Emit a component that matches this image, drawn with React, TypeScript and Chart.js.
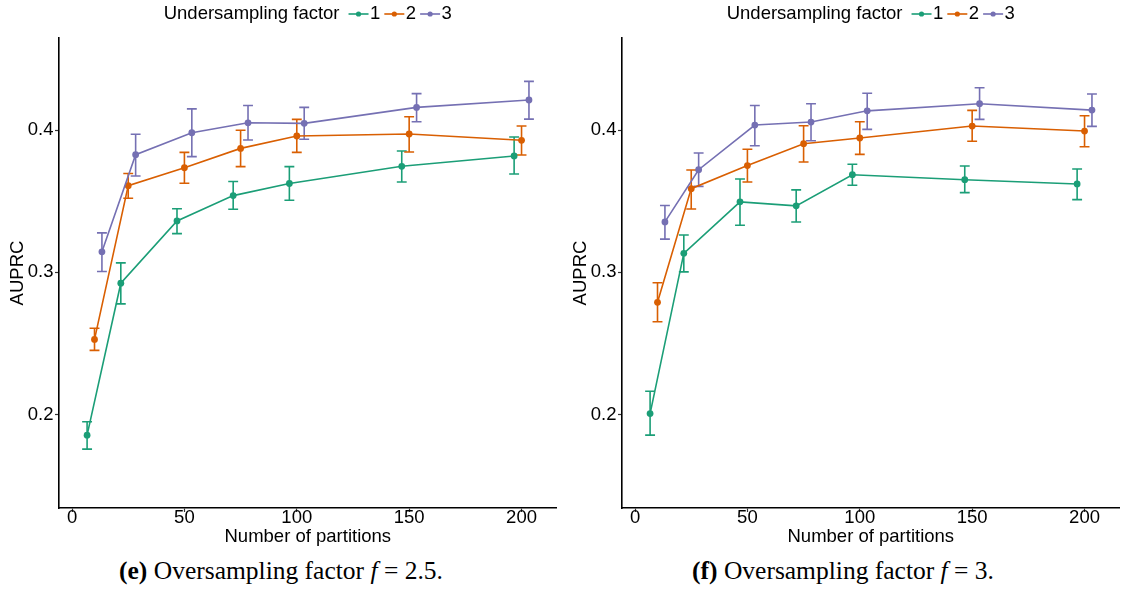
import React, { useEffect, useRef } from "react";
import { Chart, registerables } from "chart.js";

Chart.register(...registerables);

// Shared layout of both panels
const partitions = [10, 25, 50, 75, 100, 150, 200];
const factorLabels = ["1", "2", "3"];
const factorColors = ["#1B9E77", "#D95F02", "#7570B3"];
const dodgeOffsets = [-3.3, 0, 3.3];
const capHalfWidth = 2.2;
const xTicks = [0, 50, 100, 150, 200];
const yTicks = [0.2, 0.3, 0.4];
const xLimits = [-5.8, 215.6];
const yLimits = [0.1343, 0.4647];

// Oversampling factor f = 2.5
const meanE1 = [0.1855, 0.2923, 0.3361, 0.3539, 0.3624, 0.3745, 0.3818];
const lowE1 = [0.1757, 0.2778, 0.3272, 0.3443, 0.3506, 0.3635, 0.3691];
const highE1 = [0.1949, 0.3066, 0.3447, 0.3638, 0.3743, 0.3853, 0.3951];
const meanE2 = [0.2528, 0.3609, 0.3735, 0.3871, 0.3958, 0.3972, 0.3928];
const lowE2 = [0.2451, 0.3521, 0.3626, 0.3743, 0.3843, 0.3846, 0.3825];
const highE2 = [0.2607, 0.3694, 0.3843, 0.3998, 0.4075, 0.4093, 0.4028];
const meanE3 = [0.3144, 0.3827, 0.3981, 0.4051, 0.4047, 0.4159, 0.4211];
const lowE3 = [0.3006, 0.3677, 0.3813, 0.393, 0.3935, 0.4058, 0.4077];
const highE3 = [0.3277, 0.397, 0.4149, 0.4173, 0.4159, 0.4256, 0.4342];

// Oversampling factor f = 3
const meanF1 = [0.2007, 0.3133, 0.3495, 0.3467, 0.3686, 0.3651, 0.3621];
const lowF1 = [0.1855, 0.3003, 0.3331, 0.3354, 0.3612, 0.356, 0.3511];
const highF1 = [0.2164, 0.3262, 0.3656, 0.3579, 0.3759, 0.3747, 0.3726];
const meanF2 = [0.2789, 0.3588, 0.375, 0.3904, 0.3944, 0.4028, 0.3993];
const lowF2 = [0.2652, 0.3445, 0.3635, 0.3775, 0.3829, 0.3921, 0.3883];
const highF2 = [0.2926, 0.3719, 0.3865, 0.403, 0.4058, 0.4138, 0.41];
const meanF3 = [0.3354, 0.3721, 0.4035, 0.4056, 0.4135, 0.4185, 0.414];
const lowF3 = [0.3233, 0.3604, 0.389, 0.3925, 0.4005, 0.4075, 0.4026];
const highF3 = [0.347, 0.3839, 0.4173, 0.4185, 0.4259, 0.4297, 0.4253];

const SANS = "'Liberation Sans', Arial, sans-serif";
const FONT_SIZE = 18.5;
const CANVAS_W = 560;
const CANVAS_H = 550;
const PLOT_LEFT = 59;
const PLOT_TOP = 38;
const PLOT_BOTTOM = 508;

// Vertical error bars with caps, drawn under the lines and points
const errorBarPlugin = {
  id: "errorBars",
  beforeDatasetsDraw(chart: any) {
    const { ctx, scales } = chart;
    const xs = scales.x;
    const ys = scales.y;
    ctx.save();
    ctx.lineWidth = 1.6;
    ctx.lineCap = "butt";
    chart.data.datasets.forEach((ds: any) => {
      ctx.strokeStyle = ds.borderColor;
      ds.data.forEach((pt: any, i: number) => {
        const xc = xs.getPixelForValue(pt.x);
        const x0 = xs.getPixelForValue(pt.x - capHalfWidth);
        const x1 = xs.getPixelForValue(pt.x + capHalfWidth);
        const yLo = ys.getPixelForValue(ds.errLow[i]);
        const yHi = ys.getPixelForValue(ds.errHigh[i]);
        ctx.beginPath();
        ctx.moveTo(xc, yHi);
        ctx.lineTo(xc, yLo);
        ctx.moveTo(x0, yHi);
        ctx.lineTo(x1, yHi);
        ctx.moveTo(x0, yLo);
        ctx.lineTo(x1, yLo);
        ctx.stroke();
      });
    });
    ctx.restore();
  },
};

// Single-row legend with a title, centred over the plotting area
const inlineLegendPlugin = {
  id: "inlineLegend",
  afterDraw(chart: any) {
    const { ctx, chartArea } = chart;
    const title = "Undersampling factor";
    const glyphW = 20;
    const gapTitle = 9;
    const gapGlyph = 1.5;
    const gapItem = 4;
    ctx.save();
    ctx.font = `${FONT_SIZE}px ${SANS}`;
    ctx.textBaseline = "middle";
    ctx.textAlign = "left";
    const titleW = ctx.measureText(title).width;
    const labelWs = factorLabels.map((l) => ctx.measureText(l).width);
    let total = titleW + gapTitle;
    labelWs.forEach((w, i) => {
      total += glyphW + gapGlyph + w + (i < labelWs.length - 1 ? gapItem : 0);
    });
    let x = (chartArea.left + chartArea.right) / 2 - total / 2;
    const y = 14;
    ctx.fillStyle = "#000";
    ctx.fillText(title, x, y);
    x += titleW + gapTitle;
    factorLabels.forEach((l, i) => {
      const c = factorColors[i];
      ctx.strokeStyle = c;
      ctx.lineWidth = 1.6;
      ctx.beginPath();
      ctx.moveTo(x, y);
      ctx.lineTo(x + glyphW, y);
      ctx.stroke();
      ctx.fillStyle = c;
      ctx.beginPath();
      ctx.arc(x + glyphW / 2, y, 2.6, 0, Math.PI * 2);
      ctx.fill();
      x += glyphW + gapGlyph;
      ctx.fillStyle = "#000";
      ctx.fillText(l, x, y);
      x += labelWs[i] + gapItem;
    });
    ctx.restore();
  },
};

type PanelProps = {
  means: number[][];
  lows: number[][];
  highs: number[][];
};

function Panel({ means, lows, highs }: PanelProps) {
  const ref = useRef<HTMLCanvasElement | null>(null);

  useEffect(() => {
    if (!ref.current) return;
    const datasets = factorLabels.map((label, k) => ({
      label,
      data: partitions.map((p, i) => ({ x: p + dodgeOffsets[k], y: means[k][i] })),
      errLow: lows[k],
      errHigh: highs[k],
      borderColor: factorColors[k],
      backgroundColor: factorColors[k],
      borderWidth: 1.6,
      pointRadius: 3.4,
      pointBorderWidth: 0,
      pointHoverRadius: 3.4,
      tension: 0,
      order: 3 - k,
    }));

    const tickFont = { family: SANS, size: FONT_SIZE, lineHeight: 1 };
    const titleFont = { family: SANS, size: FONT_SIZE, lineHeight: 1.2 };

    const chart = new Chart(ref.current, {
      type: "line",
      data: { datasets } as any,
      options: {
        animation: false,
        responsive: false,
        devicePixelRatio: 1,
        layout: { padding: { top: PLOT_TOP, right: CANVAS_W - 558, bottom: 0, left: 0 } },
        plugins: {
          legend: { display: false },
          tooltip: { enabled: false },
        },
        scales: {
          x: {
            type: "linear",
            min: xLimits[0],
            max: xLimits[1],
            afterBuildTicks: (scale: any) => {
              scale.ticks = xTicks.map((v) => ({ value: v }));
            },
            afterFit: (scale: any) => {
              scale.height = CANVAS_H - PLOT_BOTTOM;
            },
            ticks: {
              font: tickFont,
              color: "#000",
              padding: -3,
              maxRotation: 0,
              callback: (v: any) => String(v),
            },
            grid: {
              display: true,
              drawOnChartArea: false,
              drawTicks: true,
              tickLength: 4,
              tickColor: "#333",
              tickWidth: 1.2,
            },
            border: { display: true, color: "#000", width: 1.6 },
            title: {
              display: true,
              text: "Number of partitions",
              font: titleFont,
              color: "#000",
              padding: { top: 0, bottom: 2.2 },
            },
          },
          y: {
            type: "linear",
            min: yLimits[0],
            max: yLimits[1],
            afterBuildTicks: (scale: any) => {
              scale.ticks = yTicks.map((v) => ({ value: v }));
            },
            afterFit: (scale: any) => {
              scale.width = PLOT_LEFT;
            },
            ticks: {
              font: tickFont,
              color: "#000",
              padding: 1.5,
              callback: (v: any) => Number(v).toFixed(1),
            },
            grid: {
              display: true,
              drawOnChartArea: false,
              drawTicks: true,
              tickLength: 4,
              tickColor: "#333",
              tickWidth: 1.2,
            },
            border: { display: true, color: "#000", width: 1.6 },
            title: {
              display: true,
              text: "AUPRC",
              font: titleFont,
              color: "#000",
              padding: { top: 6.4, bottom: 0 },
            },
          },
        },
      } as any,
      plugins: [errorBarPlugin, inlineLegendPlugin],
    });
    return () => chart.destroy();
  }, [means, lows, highs]);

  return <canvas ref={ref} width={CANVAS_W} height={CANVAS_H} style={{ display: "block" }} />;
}

const captionStyle: React.CSSProperties = {
  position: "absolute",
  width: 560,
  textAlign: "center",
  fontFamily: "'Liberation Serif', 'Times New Roman', serif",
  fontSize: 25.5,
  lineHeight: "26px",
  color: "#000",
  whiteSpace: "nowrap",
};

export default function App() {
  return (
    <div
      style={{
        position: "absolute",
        left: 0,
        top: 0,
        width: 1122,
        height: 601,
        background: "#fff",
        overflow: "hidden",
      }}
    >
      <div style={{ position: "absolute", left: 0, top: 0 }}>
        <Panel
          means={[meanE1, meanE2, meanE3]}
          lows={[lowE1, lowE2, lowE3]}
          highs={[highE1, highE2, highE3]}
        />
      </div>
      <div style={{ position: "absolute", left: 563, top: 0 }}>
        <Panel
          means={[meanF1, meanF2, meanF3]}
          lows={[lowF1, lowF2, lowF3]}
          highs={[highF1, highF2, highF3]}
        />
      </div>
      <div style={{ ...captionStyle, left: 1, top: 558 }}>
        <b>(e)</b> Oversampling factor <i>f</i> = 2.5.
      </div>
      <div style={{ ...captionStyle, left: 563, top: 558 }}>
        <b>(f)</b> Oversampling factor <i>f</i> = 3.
      </div>
    </div>
  );
}
